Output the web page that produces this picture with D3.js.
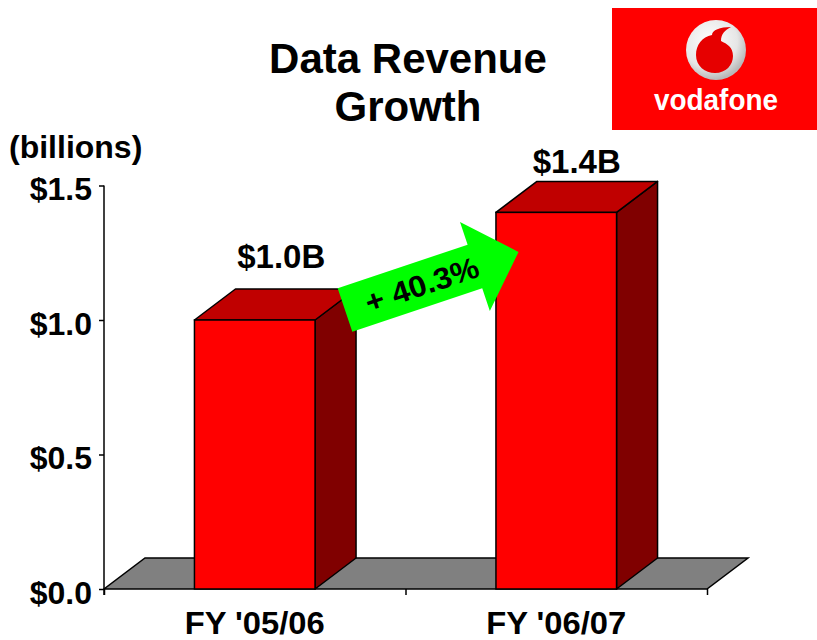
<!DOCTYPE html>
<html>
<head>
<meta charset="utf-8">
<script src="https://cdn.jsdelivr.net/npm/d3@7"></script>
<style>
  body { margin: 0; background: #fff; }
  text { font-family: "Liberation Sans", Arial, sans-serif; font-weight: bold; fill: #000; }
</style>
</head>
<body>
<div class="container"></div>
<script>
// chart data
var categories = ["FY '05/06", "FY '06/07"];
var revenue = [1.0, 1.4];
var valueLabels = ["$1.0B", "$1.4B"];
var yTicks = [0, 0.5, 1.0, 1.5];
var yTickLabels = ["$0.0", "$0.5", "$1.0", "$1.5"];
var titleLines = ["Data Revenue", "Growth"];
var unitLabel = "(billions)";
var growthLabel = "+ 40.3%";

const WIDTH = 817;
const HEIGHT = 640;
const DX = 41, DY = -31;   // 3d depth offset

var svg = d3.select(".container").append('svg')
	.attr('width', WIDTH)
	.attr('height', HEIGHT);

var yScale = d3.scaleLinear()
	.domain([0, 1.5])
	.range([589, 185.5]);

var xScale = d3.scaleBand()
	.domain(categories)
	.range([104, 707])
	.paddingInner(0.6)
	.paddingOuter(0.3);

var y0 = yScale(0);
var bw = xScale.bandwidth();
var poly = function(pts){ return 'M' + pts.map(function(p){ return p.join(','); }).join('L') + 'Z'; };

// floor
var fx0 = xScale.range()[0], fx1 = xScale.range()[1];
svg.append('path')
	.attr('d', poly([[fx0, y0], [fx1, y0], [fx1 + DX, y0 + DY], [fx0 + DX, y0 + DY]]))
	.attr('fill', '#808080')
	.attr('stroke', '#000')
	.attr('stroke-width', 1.5);

// bars
var bars = svg.append('g').selectAll('g')
	.data(categories)
	.join('g');

bars.append('path')
	.attr('d', function(c, i){
		var x = xScale(c), yv = yScale(revenue[i]);
		return poly([[x + bw, yv], [x + bw + DX, yv + DY], [x + bw + DX, y0 + DY], [x + bw, y0]]);
	})
	.attr('fill', '#800000').attr('stroke', '#000').attr('stroke-width', 1.5).attr('stroke-linejoin', 'round');

bars.append('path')
	.attr('d', function(c, i){
		var x = xScale(c), yv = yScale(revenue[i]);
		return poly([[x, yv], [x + DX, yv + DY], [x + bw + DX, yv + DY], [x + bw, yv]]);
	})
	.attr('fill', '#c00000').attr('stroke', '#000').attr('stroke-width', 1.5).attr('stroke-linejoin', 'round');

bars.append('rect')
	.attr('x', function(c){ return xScale(c); })
	.attr('y', function(c, i){ return yScale(revenue[i]); })
	.attr('width', bw)
	.attr('height', function(c, i){ return y0 - yScale(revenue[i]); })
	.attr('fill', '#ff0000').attr('stroke', '#000').attr('stroke-width', 1.5);

// value labels above bars
var labelOffsets = [52, 39];
svg.append('g').selectAll('text')
	.data(categories)
	.join('text')
	.attr('x', function(c, i){ return xScale(c) + bw / 2 + DX / 2 + (i == 0 ? 6 : 0); })
	.attr('y', function(c, i){ return yScale(revenue[i]) - labelOffsets[i]; })
	.attr('text-anchor', 'middle')
	.style('font-size', '33px')
	.text(function(c, i){ return valueLabels[i]; });

// growth arrow
var arrow = svg.append('g')
	.attr('transform', 'translate(345,310) rotate(-18.5)');
arrow.append('path')
	.attr('d', poly([[0, -23], [137, -23], [137, -47], [183, 0], [137, 47], [137, 23], [0, 23]]))
	.attr('fill', '#00ff00');
arrow.append('text')
	.attr('x', 81)
	.attr('y', 11)
	.attr('text-anchor', 'middle')
	.attr('textLength', 118)
	.attr('lengthAdjust', 'spacingAndGlyphs')
	.style('font-size', '30px')
	.text(growthLabel);

// y axis
var yAxis = d3.axisLeft(yScale)
	.tickValues(yTicks)
	.tickFormat(function(d, i){ return yTickLabels[i]; })
	.tickSize(5)
	.tickPadding(7);
var gy = svg.append('g')
	.attr('transform', 'translate(104,0)')
	.call(yAxis);
gy.select('.domain').remove();
gy.selectAll('line').attr('stroke', '#000').attr('stroke-width', 1.5);
gy.selectAll('text')
	.attr('dy', '0.45em')
	.style('font-family', '"Liberation Sans", Arial, sans-serif')
	.style('font-weight', 'bold')
	.style('font-size', '32px');
gy.append('line')
	.attr('y1', yScale(1.5)).attr('y2', y0 + 6)
	.attr('stroke', '#000').attr('stroke-width', 1.5);

// x axis: category boundary ticks
var xEdge = d3.scaleLinear().domain([0, categories.length]).range(xScale.range());
var gxt = svg.append('g')
	.attr('transform', 'translate(0,' + y0 + ')')
	.call(d3.axisBottom(xEdge).tickValues(d3.range(categories.length + 1)).tickFormat('').tickSize(6));
gxt.select('.domain').remove();
gxt.selectAll('line').attr('stroke', '#000').attr('stroke-width', 1.5);

// x axis: category labels
var gx = svg.append('g')
	.attr('transform', 'translate(0,' + y0 + ')')
	.call(d3.axisBottom(xScale).tickSize(0).tickPadding(22));
gx.select('.domain').remove();
gx.selectAll('text')
	.attr('textLength', 140)
	.attr('lengthAdjust', 'spacingAndGlyphs')
	.style('font-family', '"Liberation Sans", Arial, sans-serif')
	.style('font-weight', 'bold')
	.style('font-size', '32px');

// title and unit
svg.append('g').selectAll('text')
	.data(titleLines)
	.join('text')
	.attr('x', 408)
	.attr('y', function(d, i){ return 73 + i * 48; })
	.attr('text-anchor', 'middle')
	.style('font-size', '42px')
	.text(function(d){ return d; });

svg.append('text')
	.attr('x', 9)
	.attr('y', 158)
	.style('font-size', '32px')
	.text(unitLabel);

// vodafone logo
var logo = svg.append('g');
var grad = svg.append('defs').append('radialGradient')
	.attr('id', 'ball').attr('cx', '40%').attr('cy', '35%').attr('r', '65%');
grad.append('stop').attr('offset', '0%').attr('stop-color', '#ffffff');
grad.append('stop').attr('offset', '70%').attr('stop-color', '#e6e6e6');
grad.append('stop').attr('offset', '100%').attr('stop-color', '#b8b8b8');
logo.append('rect')
	.attr('x', 612).attr('y', 8).attr('width', 205).attr('height', 122)
	.attr('fill', '#ff0000');
logo.append('circle')
	.attr('cx', 716).attr('cy', 50).attr('r', 30)
	.attr('fill', 'url(#ball)');
logo.append('path')
	.attr('d', 'M712,35 C702,37 696,45 696,55 C696,66 705,73 715,73 C726,73 733,65 733,56 C733,47 727,44 721,41 C721,34 725,30 731,27 C720,27 712,30 712,35 Z')
	.attr('fill', '#e60000');
logo.append('text')
	.attr('x', 716)
	.attr('y', 110)
	.attr('text-anchor', 'middle')
	.attr('textLength', 124)
	.attr('lengthAdjust', 'spacingAndGlyphs')
	.style('font-size', '30px')
	.style('fill', '#fff')
	.text('vodafone');
</script>
</body>
</html>
